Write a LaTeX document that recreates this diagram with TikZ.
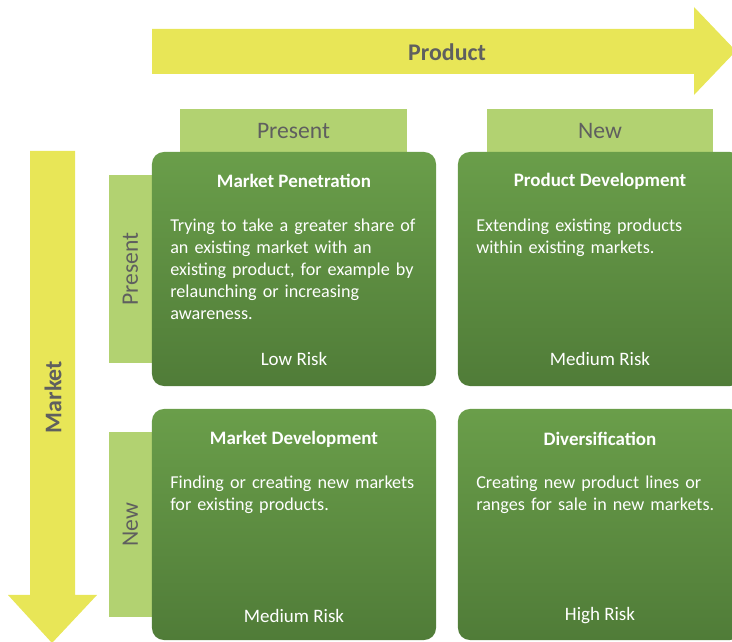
\documentclass[tikz,border=0pt]{standalone}
\usepackage{fontspec}
\setmainfont{Carlito}
\usepackage{tikz}
\usetikzlibrary{positioning}
\definecolor{arrowyellow}{HTML}{E8E657}
\definecolor{headgreen}{HTML}{B2D271}
\definecolor{quadtop}{HTML}{6A9E4A}
\definecolor{quadbot}{HTML}{507C38}
\definecolor{labelgray}{HTML}{5F5F5F}
\tikzset{quad/.style={rectangle, rounded corners=0.3cm, top color=quadtop, bottom color=quadbot, minimum width=7.1cm, inner sep=0cm}}
\tikzset{head/.style={rectangle, fill=headgreen, text=labelgray, font=\fontsize{16.8}{19}\selectfont, inner sep=0cm}}
\tikzset{axis/.style={text=labelgray, font=\bfseries\fontsize{17}{19}\selectfont}}
\tikzset{title/.style={text=white, font=\bfseries\fontsize{13.5}{16}\selectfont}}
\tikzset{body/.style={text=white, font=\fontsize{12.9}{15.6}\selectfont, align=left, text width=6.8cm, anchor=north west, inner sep=0cm}}
\tikzset{risk/.style={text=white, font=\fontsize{13.5}{16}\selectfont}}

\begin{document}
\begin{tikzpicture}[x=0.025cm, y=-0.025cm]
		\useasboundingbox (0,0) rectangle (732,642);
		\clip (0,0) rectangle (732,642);

		% axis arrows
		\fill[arrowyellow] (152,29) -- (694,29) -- (694,7) -- (736,51) -- (694,95) -- (694,74) -- (152,74) -- cycle;
		\node[axis] at (447,52) (product) {Product};
		\fill[arrowyellow] (30,151) -- (75,151) -- (75,595) -- (97,595) -- (52,643) -- (8,595) -- (30,595) -- cycle;
		\node[axis, rotate=90] at (53,397) (market) {Market};

		% headers
		\node[head, text depth=0pt, minimum width=5.675cm, minimum height=1.075cm] at (293.5,130.5) (hpresent) {Present};
		\node[head, text depth=0pt, minimum width=5.65cm, minimum height=1.075cm] at (600,130.5) (hnew) {New};
		\node[head, rotate=90, minimum width=4.7cm, minimum height=1.075cm] at (130.5,269) (vpresent) {Present};
		\node[head, rotate=90, minimum width=4.625cm, minimum height=1.075cm] at (130.5,524.5) (vnew) {New};

		% quadrants
		\node[quad, minimum height=5.85cm] at (294,269) (pen) {};
		\node[quad, minimum height=5.85cm] at (600,269) (pdev) {};
		\node[quad, minimum height=5.775cm] at (294,524.5) (mdev) {};
		\node[quad, minimum height=5.775cm] at (600,524.5) (div) {};

		\node[title] at (294,181) (pen-title) {Market Penetration};
		\node[body] at (170,219) (pen-body) {Trying to take a greater share of\\an existing market with an\\existing product, for example by\\relaunching or increasing\\awareness.};
		\node[risk] at (294,359) (pen-risk) {Low Risk};

		\node[title] at (600,181) (pdev-title) {Product Development};
		\node[body] at (476,219) (pdev-body) {Extending existing products\\within existing markets.};
		\node[risk] at (600,359) (pdev-risk) {Medium Risk};

		\node[title] at (294,439) (mdev-title) {Market Development};
		\node[body] at (170,476) (mdev-body) {Finding or creating new markets\\for existing products.};
		\node[risk] at (294,616) (mdev-risk) {Medium Risk};

		\node[title] at (600,439) (div-title) {Diversification};
		\node[body] at (476,476) (div-body) {Creating new product lines or\\ranges for sale in new markets.};
		\node[risk] at (600,616) (div-risk) {High Risk};
\end{tikzpicture}
\end{document}
